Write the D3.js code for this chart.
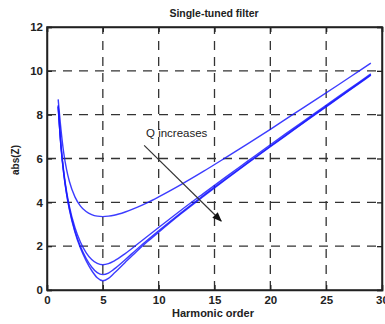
<!DOCTYPE html>
<html>
<head>
<meta charset="utf-8">
<script src="https://cdn.jsdelivr.net/npm/d3@7"></script>
<style>
  html, body { margin: 0; padding: 0; background: #fff; }
  svg { display: block; }
  text { font-family: "Liberation Sans", Arial, sans-serif; fill: #222; }
</style>
</head>
<body>
<svg id="chart" width="385" height="324"></svg>
<script>
// ---- data ----
const harmonicOrder = [1, 1.25, 1.5, 1.75, 2, 2.5, 3, 3.5, 4, 4.5, 5, 5.5, 6, 7, 8, 9, 10, 12, 14, 16, 18, 20, 22, 24, 26, 28, 29];
const absZLowQ   = [8.70, 7.33, 6.25, 5.50, 4.96, 4.25, 3.83, 3.58, 3.44, 3.37, 3.35, 3.37, 3.41, 3.56, 3.76, 3.99, 4.25, 4.81, 5.41, 6.04, 6.68, 7.33, 8.00, 8.66, 9.33, 10.01, 10.35];
const absZMidQ   = [8.43, 6.63, 5.40, 4.51, 3.83, 2.85, 2.18, 1.71, 1.39, 1.21, 1.15, 1.20, 1.32, 1.66, 2.05, 2.45, 2.85, 3.64, 4.40, 5.15, 5.89, 6.63, 7.35, 8.07, 8.79, 9.50, 9.86];
const absZHighQ  = [8.38, 6.56, 5.32, 4.42, 3.72, 2.70, 1.98, 1.45, 1.05, 0.79, 0.70, 0.77, 0.95, 1.38, 1.84, 2.28, 2.70, 3.52, 4.31, 5.07, 5.82, 6.56, 7.29, 8.02, 8.74, 9.46, 9.82];
const absZTopQ   = [8.36, 6.54, 5.30, 4.38, 3.68, 2.64, 1.90, 1.34, 0.89, 0.56, 0.42, 0.53, 0.76, 1.26, 1.75, 2.21, 2.64, 3.48, 4.27, 5.04, 5.80, 6.54, 7.27, 8.00, 8.72, 9.44, 9.80];
const seriesList = [absZLowQ, absZMidQ, absZHighQ, absZTopQ];
const xTicks = [0, 5, 10, 15, 20, 25, 30];
const yTicks = [0, 2, 4, 6, 8, 10, 12];
const titleText = "Single-tuned filter";
const xLabel = "Harmonic order";
const yLabel = "abs(Z)";
const annotation = "Q increases";
const arrowFrom = [8.7, 6.6];   // data coords
const arrowTo = [15.6, 3.15];

// ---- layout ----
const svg = d3.select("#chart");
const L = 47, R = 382, T = 27, B = 290;
const x = d3.scaleLinear().domain([0, 30]).range([L, R]);
const y = d3.scaleLinear().domain([0, 12]).range([B, T]);

// grid
const grid = svg.append("g").attr("stroke", "#333").attr("stroke-width", 1.3)
  .attr("stroke-dasharray", "9,7");
grid.selectAll(".vg").data(xTicks.filter(d => d > 0 && d < 30)).join("line")
  .attr("x1", d => x(d)).attr("x2", d => x(d)).attr("y1", B).attr("y2", T);
grid.selectAll(".hg").data(yTicks.filter(d => d > 0 && d < 12)).join("line")
  .attr("y1", d => y(d)).attr("y2", d => y(d)).attr("x1", L).attr("x2", R);

// curves
const line = d3.line().x((d, i) => x(harmonicOrder[i])).y(d => y(d)).curve(d3.curveMonotoneX);
svg.append("g").selectAll("path").data(seriesList).join("path")
  .attr("d", d => line(d))
  .attr("fill", "none")
  .attr("stroke", "#1a1aff")
  .attr("stroke-opacity", 0.85)
  .attr("stroke-width", 1.4);

// axes with inward ticks
const fmt = d3.format("d");
const xAxis = svg.append("g").attr("transform", `translate(0,${B})`)
  .call(d3.axisBottom(x).tickValues(xTicks).tickSize(-5).tickPadding(8).tickFormat(fmt));
const yAxis = svg.append("g").attr("transform", `translate(${L},0)`)
  .call(d3.axisLeft(y).tickValues(yTicks).tickSize(-5).tickPadding(4).tickFormat(fmt));
const xTop = svg.append("g").attr("transform", `translate(0,${T})`)
  .call(d3.axisTop(x).tickValues(xTicks).tickSize(-5).tickFormat(""));
const yRight = svg.append("g").attr("transform", `translate(${R},0)`)
  .call(d3.axisRight(y).tickValues(yTicks).tickSize(-5).tickFormat(""));
[xAxis, yAxis, xTop, yRight].forEach(g => {
  g.select(".domain").attr("stroke", "#222").attr("stroke-width", 1.5);
  g.selectAll(".tick line").attr("stroke", "#222").attr("stroke-width", 1.3);
  g.selectAll(".tick text").attr("fill", "#222")
    .style("font-family", '"Liberation Sans", Arial, sans-serif')
    .style("font-size", "11.5px").style("font-weight", "bold");
});
xAxis.selectAll(".tick text").attr("dy", "0.55em");

// box
svg.append("rect").attr("x", L).attr("y", T).attr("width", R - L).attr("height", B - T)
  .attr("fill", "none").attr("stroke", "#222").attr("stroke-width", 1.5);

// labels
svg.append("text").attr("x", 214).attr("y", 17).attr("text-anchor", "middle")
  .style("font-size", "10.5px").style("font-weight", "bold").text(titleText);
svg.append("text").attr("x", 213).attr("y", 317).attr("text-anchor", "middle")
  .style("font-size", "11px").style("font-weight", "bold").text(xLabel);
svg.append("text").attr("transform", "translate(19,160) rotate(-90)").attr("text-anchor", "middle")
  .style("font-size", "10px").style("font-weight", "bold").text(yLabel);

// annotation arrow
const defs = svg.append("defs");
defs.append("marker").attr("id", "ah").attr("viewBox", "0 0 10 10").attr("refX", 9).attr("refY", 5)
  .attr("markerWidth", 8).attr("markerHeight", 8).attr("orient", "auto")
  .append("path").attr("d", "M0,1 L10,5 L0,9 Z").attr("fill", "#111");
svg.append("line")
  .attr("x1", x(arrowFrom[0])).attr("y1", y(arrowFrom[1]))
  .attr("x2", x(arrowTo[0])).attr("y2", y(arrowTo[1]))
  .attr("stroke", "#333").attr("stroke-width", 1.2).attr("marker-end", "url(#ah)");
svg.append("text").attr("x", 146).attr("y", 137)
  .style("font-size", "11.5px").text(annotation);
</script>
</body>
</html>
